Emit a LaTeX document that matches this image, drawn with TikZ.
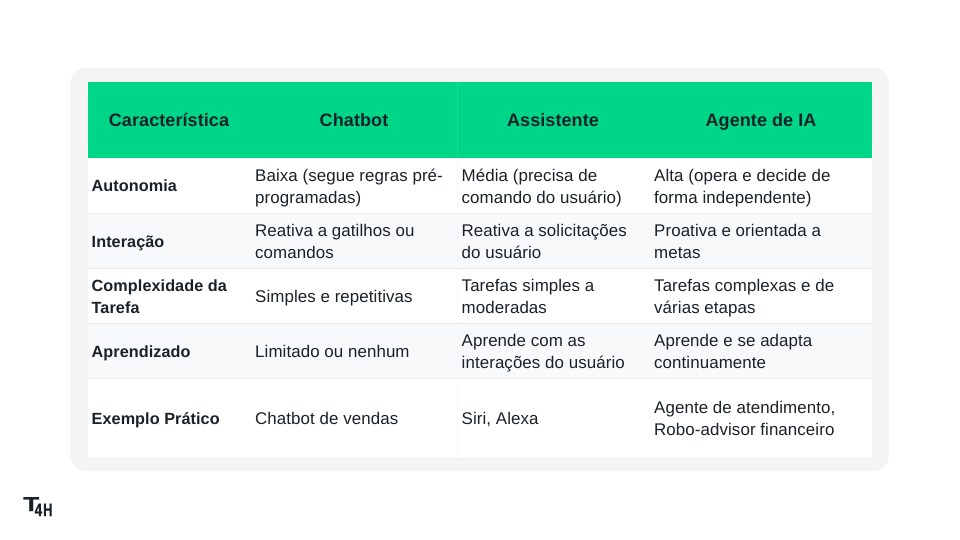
\documentclass[tikz,border=0pt]{standalone}
\usepackage{fontspec}
\setmainfont{Liberation Sans}[LetterSpace=.5]
\newfontfamily\logofont{Liberation Sans}[BoldFeatures={FakeBold=1.2}]
\definecolor{cardgray}{HTML}{F4F4F4}
\definecolor{headgreen}{HTML}{00D688}
\definecolor{inkdark}{HTML}{1A2129}
\definecolor{stripe}{HTML}{F8F9FB}
\definecolor{rowline}{HTML}{E9EBED}

\begin{document}
\begin{tikzpicture} [x=1pt, y=-1pt]
    \tikzstyle{every node} = [align=left, text=inkdark, inner sep=0pt, font=\fontsize{16.9}{22}\selectfont, execute at begin node=\strut, execute at end node=\strut]
    \tikzstyle{card} = [fill=cardgray, rounded corners=16pt]
    \tikzstyle{rowbox} = [anchor=north west, minimum width=784.5pt, outer sep=0pt]
    \tikzstyle{headbox} = [rowbox, fill=headgreen, minimum height=76pt]
    \tikzstyle{plain} = [rowbox, fill=white, draw=none]
    \tikzstyle{striped} = [rowbox, fill=stripe, draw=none]
    \tikzstyle{rule} = [draw=rowline, line width=1pt]
    \tikzstyle{colrule} = [draw=white, line width=.8pt, opacity=.12]
    \tikzstyle{bodyrule} = [draw=rowline, line width=.8pt, opacity=.25]
    \tikzstyle{headcell} = [anchor=center, yshift=-2pt, font=\fontsize{18}{22}\selectfont\bfseries]
    \tikzstyle{keycell} = [anchor=west, yshift=-2pt, font=\fontsize{16.2}{22}\selectfont\bfseries]
    \tikzstyle{keytwo} = [anchor=west, yshift=-3.7pt, font=\fontsize{16.2}{22}\selectfont\bfseries]
    \tikzstyle{cell} = [anchor=west, yshift=-3.7pt]
    \tikzstyle{oneline} = [anchor=west, yshift=-2pt]
    \tikzstyle{logotext} = [anchor=base west, transform shape, execute at begin node={}, execute at end node={}]
    \useasboundingbox (0,0) rectangle (960,540);
    \fill [white] (0,0) rectangle (960,540);
    \fill [card] (70,68) rectangle (889,471);

    \node (head) [headbox] at (87.5,82) {};
    \node (auto) [plain, minimum height=55pt] at (87.5,158) {};
    \node (inter) [striped, minimum height=55pt] at (87.5,213) {};
    \node (compl) [plain, minimum height=55pt] at (87.5,268) {};
    \node (apren) [striped, minimum height=55pt] at (87.5,323) {};
    \node (exem) [plain, minimum height=80pt] at (87.5,378) {};
    \draw [rule] (auto.south west) -- (auto.south east);
    \draw [rule] (inter.south west) -- (inter.south east);
    \draw [rule] (compl.south west) -- (compl.south east);
    \draw [rule] (apren.south west) -- (apren.south east);
    \draw [rule] (exem.south west) -- (exem.south east);
    \coordinate (sepa) at (457,82);
    \coordinate (sepb) at (457,158);
    \coordinate (sepc) at (457,458);
    \draw [colrule] (sepa) -- (sepb);
    \draw [bodyrule] (sepb) -- (sepc);

    \node (hcar) [headcell] at (169,120) {Característica};
    \node (hcha) [headcell] at (354,120) {Chatbot};
    \node (hass) [headcell] at (553,120) {Assistente};
    \node (hage) [headcell] at (761,120) {Agente de IA};

    \node (auto1) [keycell] at (91.5,185.5) {Autonomia};
    \node (auto2) [cell] at (255,185.5) {Baixa (segue regras pré-\\programadas)};
    \node (auto3) [cell] at (461.5,185.5) {Média (precisa de\\comando do usuário)};
    \node (auto4) [cell] at (654,185.5) {Alta (opera e decide de\\forma independente)};

    \node (inter1) [keycell] at (91.5,241) {Interação};
    \node (inter2) [cell] at (255,241) {Reativa a gatilhos ou\\comandos};
    \node (inter3) [cell] at (461.5,241) {Reativa a solicitações\\do usuário};
    \node (inter4) [cell] at (654,241) {Proativa e orientada a\\metas};

    \node (compl1) [keytwo] at (91.5,296) {Complexidade da\\Tarefa};
    \node (compl2) [oneline] at (255,296) {Simples e repetitivas};
    \node (compl3) [cell] at (461.5,296) {Tarefas simples a\\moderadas};
    \node (compl4) [cell] at (654,296) {Tarefas complexas e de\\várias etapas};

    \node (apren1) [keycell] at (91.5,351) {Aprendizado};
    \node (apren2) [oneline] at (255,351) {Limitado ou nenhum};
    \node (apren3) [cell] at (461.5,351) {Aprende com as\\interações do usuário};
    \node (apren4) [cell] at (654,351) {Aprende e se adapta\\continuamente};

    \node (exem1) [keycell] at (91.5,418) {Exemplo Prático};
    \node (exem2) [oneline] at (255,418) {Chatbot de vendas};
    \node (exem3) [oneline] at (461.5,418) {Siri, Alexa};
    \node (exem4) [cell] at (654,418) {Agente de atendimento,\\Robo-advisor financeiro};

    \node (logot) [logotext, xscale=1.3, font=\fontsize{20}{20}\logofont\bfseries] at (23,511) {T};
    \node (logof) [logotext, xscale=.75, font=\fontsize{18}{18}\logofont\bfseries] at (34.5,516) {4};
    \node (logoh) [logotext, xscale=.72, font=\fontsize{18}{18}\logofont\bfseries] at (43,516) {H};
\end{tikzpicture}
\end{document}
